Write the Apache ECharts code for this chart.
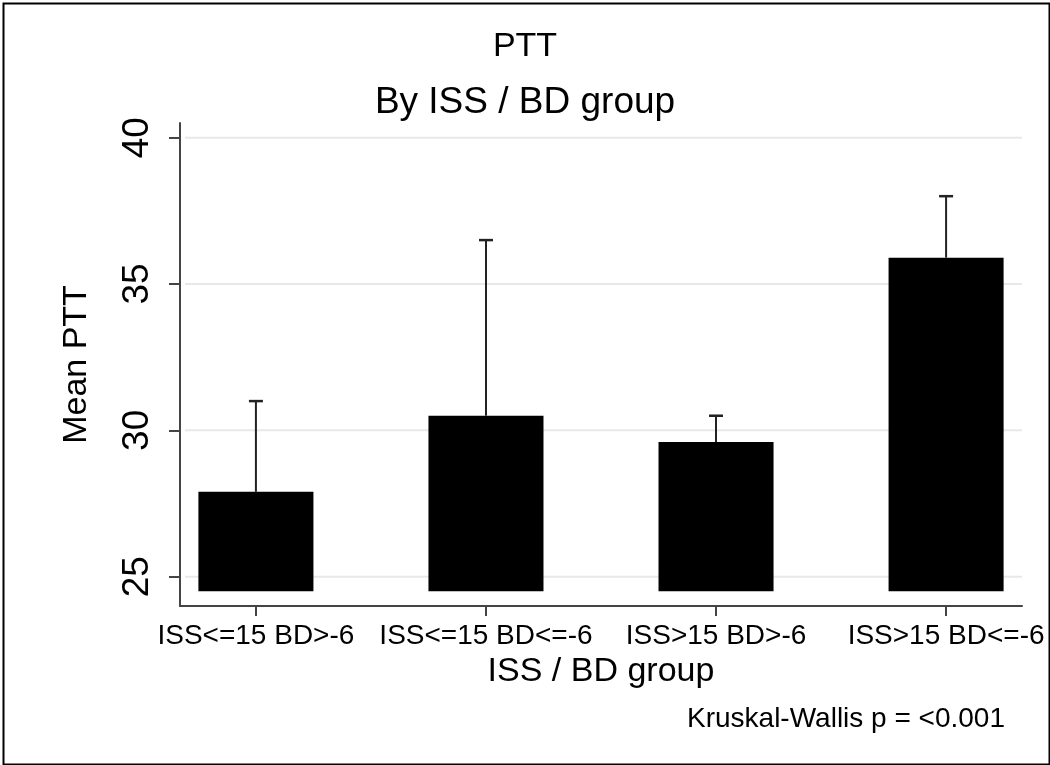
<!DOCTYPE html>
<html>
<head>
<meta charset="utf-8">
<script src="https://cdn.jsdelivr.net/npm/echarts@6/dist/echarts.min.js"></script>
<style>
  html, body { margin: 0; padding: 0; background: #fff; }
  #chart { width: 1050px; height: 765px; }
</style>
</head>
<body>
<div id="chart"></div>
<script>
// ---- data ----
const categories = ['ISS<=15 BD>-6', 'ISS<=15 BD<=-6', 'ISS>15 BD>-6', 'ISS>15 BD<=-6'];
const meanPTT = [27.9, 30.5, 29.6, 35.9];
const upperPTT = [31.0, 36.5, 30.5, 38.0];
const yTicks = [25, 30, 35, 40];
const barBase = 24.5;
const titleText = 'PTT';
const subtitleText = 'By ISS / BD group';
const noteText = 'Kruskal-Wallis p = <0.001';

const catIdx = categories.map((c, i) => i);
const FONT = 'Liberation Sans, Arial, Helvetica, sans-serif';

const chart = echarts.init(document.getElementById('chart'));

const barData = catIdx.map(i => [i, meanPTT[i]]);
const errData = catIdx.map(i => [i, meanPTT[i], upperPTT[i]]);

const option = {
  backgroundColor: '#fff',
  animation: false,
  textStyle: { fontFamily: FONT },
  title: [
    { text: titleText, left: 'center', top: 25,
      textStyle: { fontSize: 34, fontWeight: 'normal', color: '#000', fontFamily: FONT } },
    { text: subtitleText, left: 'center', top: 79,
      textStyle: { fontSize: 37, fontWeight: 'normal', color: '#000', fontFamily: FONT } },
    { text: noteText, right: 40, top: 700,
      textStyle: { fontSize: 28, fontWeight: 'normal', color: '#000', fontFamily: FONT } }
  ],
  graphic: [
    { type: 'rect', left: 1, top: 1, shape: { width: 1046, height: 761 },
      style: { fill: 'none', stroke: '#000', lineWidth: 2 }, silent: true }
  ],
  grid: { left: 180, right: 28, top: 123, bottom: 159, containLabel: false },
  xAxis: {
    type: 'value', min: -0.33, max: 3.33,
    name: 'ISS / BD group', nameLocation: 'middle', nameGap: 48,
    nameTextStyle: { fontSize: 34, color: '#000', fontFamily: FONT },
    axisLine: { show: true, onZero: false, lineStyle: { color: '#444', width: 2 } },
    axisTick: { show: true, length: 10, customValues: catIdx, lineStyle: { color: '#444', width: 2 } },
    axisLabel: { customValues: catIdx, fontSize: 28, color: '#000', margin: 16, fontFamily: FONT,
      formatter: v => categories[Math.round(v)] },
    splitLine: { show: false }
  },
  yAxis: {
    type: 'value', min: 24, max: 40.5,
    name: 'Mean PTT', nameLocation: 'middle', nameGap: 86,
    nameTextStyle: { fontSize: 34, color: '#000', fontFamily: FONT },
    axisLine: { show: true, onZero: false, lineStyle: { color: '#444', width: 2 } },
    axisTick: { show: true, length: 11, customValues: yTicks, lineStyle: { color: '#444', width: 2 } },
    axisLabel: { customValues: yTicks, rotate: 90, fontSize: 37, color: '#000', margin: 24, fontFamily: FONT },
    splitLine: { show: false }
  },
  series: [
    {
      type: 'custom',
      name: 'grid',
      silent: true,
      data: yTicks.map(v => [v]),
      renderItem: (params, api) => {
        const y = api.coord([0, api.value(0)])[1];
        const cs = params.coordSys;
        return { type: 'line', shape: { x1: cs.x + 5, y1: y, x2: cs.x + cs.width, y2: y },
          style: { stroke: '#e8e8e8', lineWidth: 2 } };
      },
      z: 0
    },
    {
      type: 'custom',
      name: 'Mean PTT',
      data: barData,
      renderItem: (params, api) => {
        const x = api.value(0);
        const top = api.coord([x, api.value(1)]);
        const bottom = api.coord([x, barBase]);
        const w = api.size([0.5, 0])[0];
        return { type: 'rect', shape: { x: top[0] - w / 2, y: top[1], width: w, height: bottom[1] - top[1] },
          style: { fill: '#000' } };
      },
      z: 2
    },
    {
      type: 'custom',
      name: 'Upper',
      data: errData,
      renderItem: (params, api) => {
        const x = api.value(0);
        const lo = api.coord([x, api.value(1)]);
        const hi = api.coord([x, api.value(2)]);
        return { type: 'group', children: [
          { type: 'line', shape: { x1: lo[0], y1: lo[1], x2: hi[0], y2: hi[1] }, style: { stroke: '#222', lineWidth: 2 } },
          { type: 'line', shape: { x1: hi[0] - 7, y1: hi[1], x2: hi[0] + 7, y2: hi[1] }, style: { stroke: '#222', lineWidth: 2.5 } }
        ] };
      },
      z: 3
    }
  ]
};
chart.setOption(option);
</script>
</body>
</html>
